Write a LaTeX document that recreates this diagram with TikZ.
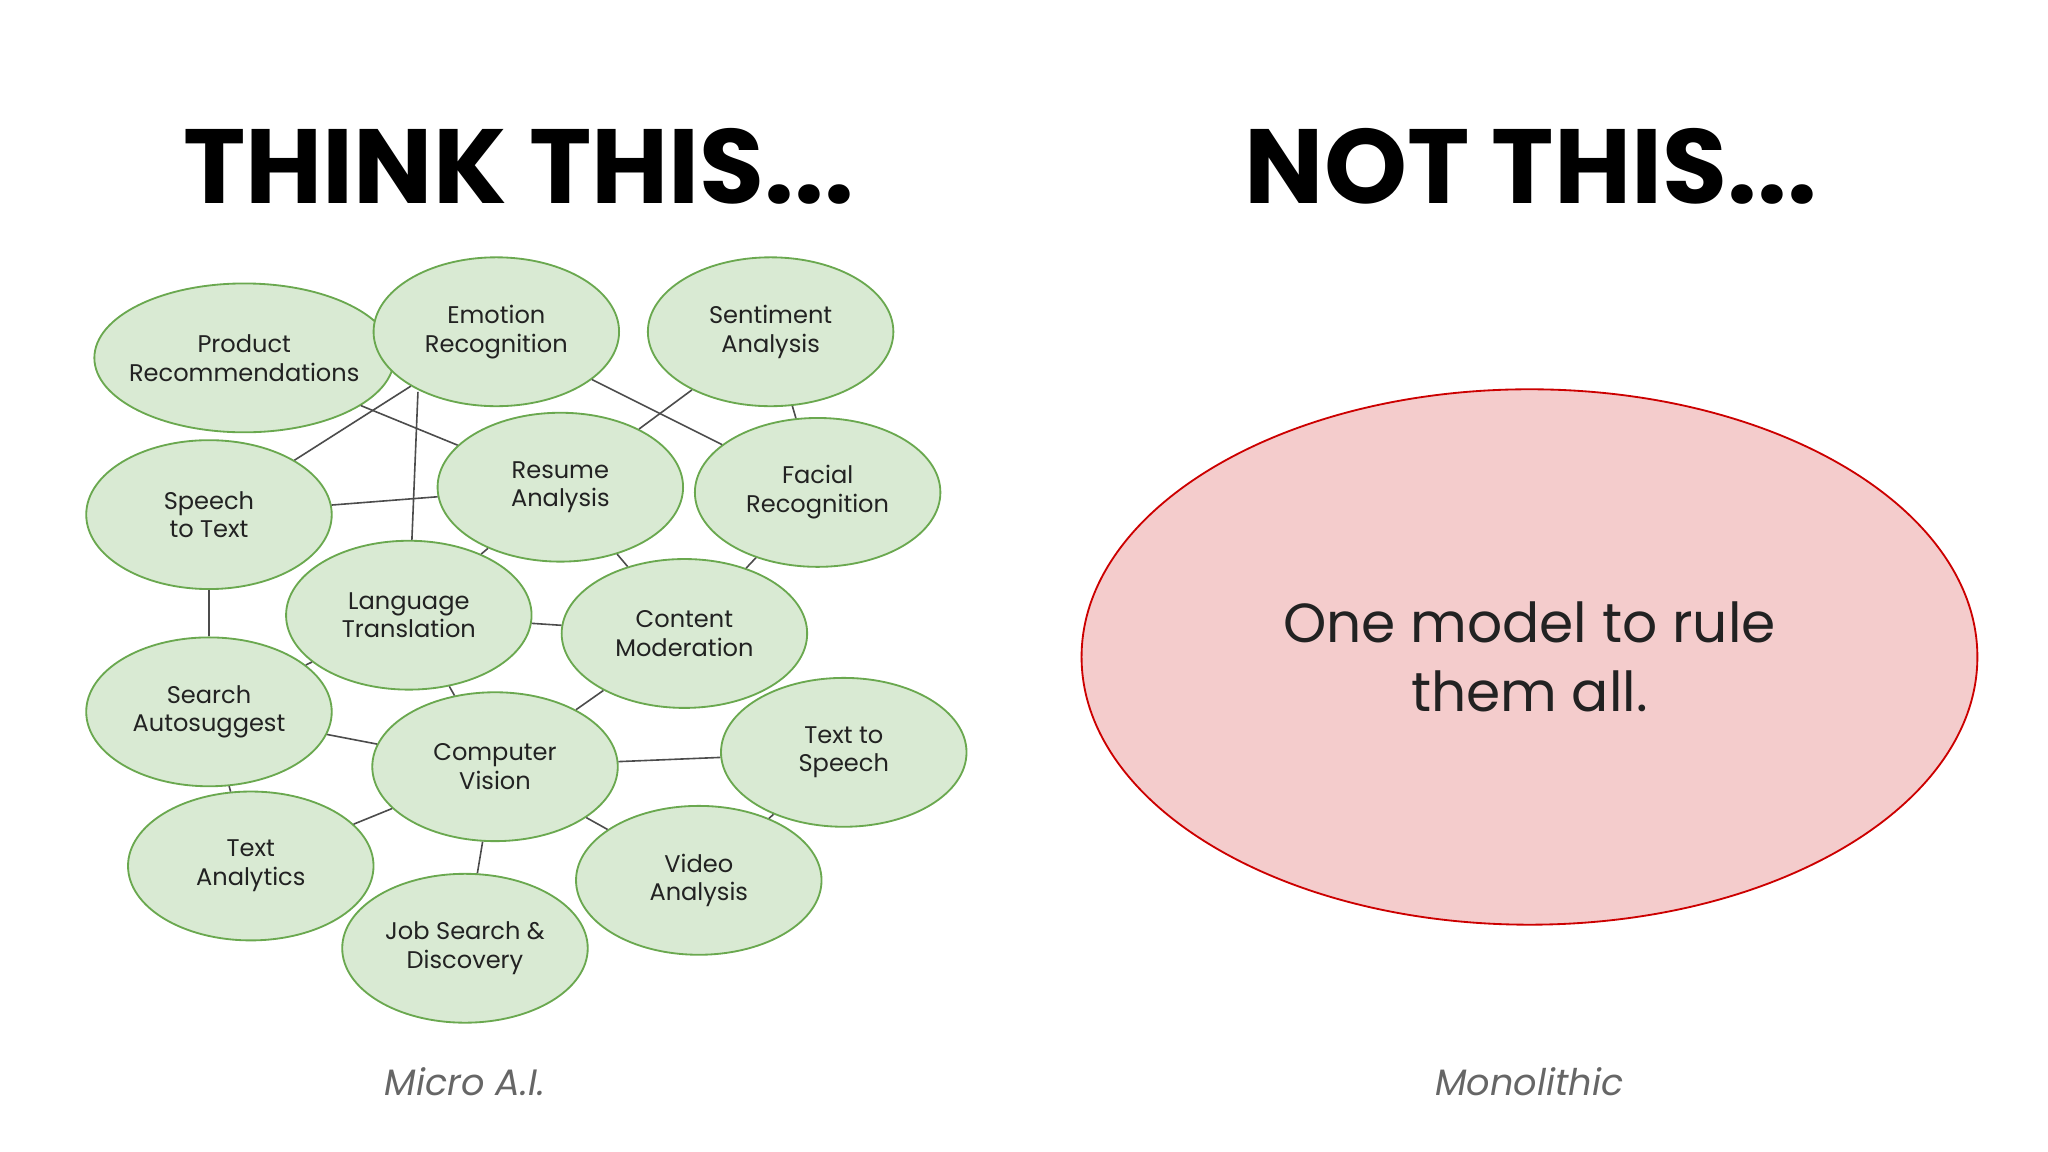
\documentclass[tikz,border=0pt]{standalone}
\usepackage{fontspec}
\setmainfont{Poppins}
\usetikzlibrary{shapes.geometric}
\definecolor{gfill}{HTML}{D9EAD3}
\definecolor{gline}{HTML}{6AA84F}
\definecolor{rfill}{HTML}{F4CCCC}
\definecolor{rline}{HTML}{CC0000}
\definecolor{txt}{HTML}{222222}
\definecolor{cap}{HTML}{666666}
\begin{document}
\begin{tikzpicture}[x=0.02cm,y=-0.02cm,
  blob/.style={ellipse,draw=gline,line width=0.8pt,fill=gfill,minimum width=3.76cm,minimum height=2.28cm,inner sep=-4pt,align=center,text=txt,font=\fontsize{10.5}{12.5}\selectfont},
  link/.style={draw=black!70,line width=0.7pt}]
\useasboundingbox (0,0) rectangle (1568,882);
\node[font=\fontsize{46}{52}\selectfont\bfseries] (t1) at (397,127) {THINK THIS...};
\node[font=\fontsize{46}{52}\selectfont\bfseries] (t2) at (1172,127) {NOT THIS...};
\node (pr) [blob] at (187,274) {Product\\Recommendations};
\node (em) [blob] at (380,254) {Emotion\\Recognition};
\node (se) [blob] at (590,254) {Sentiment\\Analysis};
\node (st) [blob] at (160,394) {Speech\\to Text};
\node (re) [blob] at (429,373) {Resume\\Analysis};
\node (fa) [blob] at (626,377) {Facial\\Recognition};
\node (la) [blob] at (313,471) {Language\\Translation};
\node (co) [blob] at (524,485) {Content\\Moderation};
\node (sa) [blob] at (160,545) {Search\\Autosuggest};
\node (cv) [blob] at (379,587) {Computer\\Vision};
\node (ts) [blob] at (646,576) {Text to\\Speech};
\node (ta) [blob] at (192,663) {Text\\Analytics};
\node (va) [blob] at (535,674) {Video\\Analysis};
\node (js) [blob] at (356,726) {Job Search \&\\Discovery};
\foreach \a/\b in {pr/re,em/st,em/fa,se/re,se/fa,st/re,st/sa,re/la,re/co,fa/co,la/sa,la/co,la/cv,co/cv,sa/cv,sa/ta,cv/ta,cv/js,cv/va,cv/ts,ts/va}
  \draw[link] (\a) -- (\b);
\coordinate (e1) at (320,300);
\draw[link] (e1) -- (la);
\node (mono) [ellipse,draw=rline,line width=0.8pt,fill=rfill,minimum width=13.72cm,minimum height=8.2cm,inner sep=0pt,align=center,text=txt,font=\fontsize{24}{30}\selectfont] at (1171,503) {One model to rule\\them all.};
\node[font=\fontsize{16}{20}\selectfont\itshape,text=cap] (l1) at (356,828) {Micro A.I.};
\node[font=\fontsize{16}{20}\selectfont\itshape,text=cap] (l2) at (1171,828) {Monolithic};
\end{tikzpicture}
\end{document}
